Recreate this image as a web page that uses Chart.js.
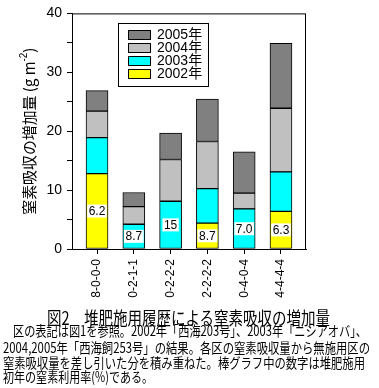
<!DOCTYPE html>
<html>
<head>
<meta charset="utf-8">
<script src="https://cdn.jsdelivr.net/npm/chart.js@4.4.0/dist/chart.umd.min.js"></script>
<style>
  html, body { margin: 0; padding: 0; background: #fff; }
  body { width: 379px; height: 388px; position: relative; overflow: hidden; }
  #wrap { position: absolute; left: 0; top: 0; width: 379px; height: 305px; }
  .line {
    position: absolute; white-space: nowrap; color: #000;
    font-family: "Noto Sans CJK JP", "Liberation Sans", sans-serif;
    transform-origin: 0 50%;
  }
</style>
</head>
<body>
<div id="wrap"><canvas id="chart" width="379" height="305"></canvas></div>

<div class="line" data-x="47" data-cy="316.5" data-w="283" data-fs="18">図2　堆肥施用履歴による窒素吸収の増加量</div>
<div class="line" data-x="13" data-cy="330" data-w="354" data-fs="14">区の表記は図1を参照。2002年「西海203号」、2003年「ニシアオバ」、</div>
<div class="line" data-x="3" data-cy="346.5" data-w="367" data-fs="14">2004,2005年「西海飼253号」の結果。各区の窒素吸収量から無施用区の</div>
<div class="line" data-x="3" data-cy="362" data-w="362" data-fs="14">窒素吸収量を差し引いた分を積み重ねた。棒グラフ中の数字は堆肥施用</div>
<div class="line" data-x="3" data-cy="376" data-w="150" data-fs="14">初年の窒素利用率(%)である。</div>

<script>
// plot categories (compost history) and stacked yearly increases, g m-2
const categories = ['8-0-0-0', '0-2-1-1', '0-2-2-2', '2-2-2-2', '0-4-0-4', '4-4-4-4'];
const years = ['2002年', '2003年', '2004年', '2005年'];
const y2002 = [12.8, 0, 0, 4.4, 0, 6.4];
const y2003 = [6.1, 4.2, 8.1, 5.85, 6.8, 6.7];
const y2004 = [4.5, 3.0, 7.1, 8.0, 2.7, 10.8];
const y2005 = [3.5, 2.4, 4.5, 7.2, 7.0, 11.0];
// nitrogen use rate in the first year (%) shown inside the bars
const rateLabels = ['6.2', '8.7', '15', '8.7', '7.0', '6.3'];
const yTicks = [0, 10, 20, 30, 40];

const colors = ['#ffff00', '#00ffff', '#c0c0c0', '#808080'];
const series = [y2002, y2003, y2004, y2005];

const datasets = series.map((vals, i) => ({
  label: years[i],
  data: vals.map((v, j) => ({ x: j, y: v })),
  backgroundColor: colors[i],
  borderColor: '#000',
  borderWidth: 1,
  borderSkipped: false,
  barThickness: 22,
}));

const jpFont = '"Noto Sans CJK JP", sans-serif';
const numFont = '"Liberation Sans", "Noto Sans CJK JP", sans-serif';

// frame, custom legend, rotated labels, rates in bars
const decor = {
  id: 'decor',
  afterDraw(chart) {
    const ctx = chart.ctx;
    const a = chart.chartArea;
    const xs = chart.scales.x;
    ctx.save();

    // plot frame
    ctx.strokeStyle = '#000';
    ctx.lineWidth = 1;
    ctx.strokeRect(a.left + 0.5, a.top + 0.5, a.right - a.left - 1, a.bottom - a.top);

    // category labels, reading bottom to top
    ctx.font = '12px ' + numFont;
    ctx.fillStyle = '#000';
    ctx.textAlign = 'right';
    ctx.textBaseline = 'middle';
    categories.forEach((c, i) => {
      ctx.save();
      ctx.translate(xs.getPixelForValue(i), a.bottom + 10);
      ctx.rotate(-Math.PI / 2);
      ctx.fillText(c, 0, 0);
      ctx.restore();
    });

    // y axis title
    ctx.save();
    ctx.translate(29, (a.top + a.bottom) / 2);
    ctx.rotate(-Math.PI / 2);
    const main = '窒素吸収の増加量 (g m';
    ctx.font = '15px ' + jpFont;
    const w1 = ctx.measureText(main).width;
    ctx.font = '10px ' + numFont;
    const w2 = ctx.measureText('-2').width;
    ctx.font = '15px ' + jpFont;
    const w3 = ctx.measureText(')').width;
    const total = w1 + w2 + w3;
    const s = 167 / total;
    ctx.scale(s, 1);
    ctx.textAlign = 'left';
    ctx.textBaseline = 'middle';
    let x0 = -total / 2;
    ctx.fillText(main, x0, 0);
    ctx.font = '10px ' + numFont;
    ctx.fillText('-2', x0 + w1, -5);
    ctx.font = '15px ' + jpFont;
    ctx.fillText(')', x0 + w1 + w2, 0);
    ctx.restore();

    // legend box
    ctx.fillStyle = '#fff';
    ctx.fillRect(118, 23, 90, 63);
    ctx.strokeStyle = '#000';
    ctx.strokeRect(118.5, 23.5, 90, 63);
    ctx.font = '14px ' + numFont;
    ctx.textAlign = 'left';
    ctx.textBaseline = 'middle';
    for (let k = 0; k < 4; k++) {
      const di = 3 - k;
      const cy = 34.5 + k * 13;
      ctx.fillStyle = colors[di];
      ctx.fillRect(128, cy - 4.5, 22, 9);
      ctx.strokeRect(128.5, cy - 4, 22, 9);
      ctx.fillStyle = '#000';
      ctx.fillText(years[di], 157, cy + 1);
    }

    // rate labels in the lowest non-zero segment
    ctx.font = '12px ' + numFont;
    ctx.textAlign = 'center';
    rateLabels.forEach((t, j) => {
      let di = series.findIndex(s => s[j] > 0);
      const el = chart.getDatasetMeta(di).data[j];
      const cy = (el.y + el.base) / 2;
      const tw = ctx.measureText(t).width;
      ctx.fillStyle = '#fff';
      ctx.fillRect(el.x - tw / 2 - 1.5, cy - 6.5, tw + 3, 13);
      ctx.fillStyle = '#000';
      ctx.fillText(t, el.x, cy + 0.5);
    });

    ctx.restore();
  }
};

new Chart(document.getElementById('chart'), {
  type: 'bar',
  data: { datasets },
  options: {
    responsive: false,
    animation: false,
    layout: { padding: { left: 0, right: 73, top: 12, bottom: 0 } },
    plugins: { legend: { display: false }, tooltip: { enabled: false } },
    scales: {
      x: {
        type: 'linear',
        stacked: true,
        offset: false,
        min: -0.68,
        max: 5.68,
        afterBuildTicks(scale) { scale.ticks = categories.map((c, i) => ({ value: i })); },
        afterFit(scale) { scale.height = 56; },
        ticks: { display: false },
        grid: { drawOnChartArea: false, offset: false, tickLength: 5, color: '#000' },
        border: { color: '#000' },
      },
      y: {
        stacked: true,
        min: 0,
        max: 40,
        afterBuildTicks(scale) {
          const t = [];
          for (let v = 0; v <= 40; v += 5) t.push({ value: v });
          scale.ticks = t;
        },
        afterFit(scale) { scale.width = 72; },
        ticks: {
          padding: 5,
          color: '#000',
          font: { family: 'Liberation Sans', size: 14 },
          callback: v => (yTicks.includes(v) ? String(v) : ''),
        },
        grid: { drawOnChartArea: false, tickLength: 5, color: '#000' },
        border: { color: '#000' },
      },
    },
  },
  plugins: [decor],
});

// caption lines squeezed to the widths measured on the figure
document.querySelectorAll('.line').forEach(el => {
  const fs = +el.dataset.fs;
  el.style.fontSize = fs + 'px';
  el.style.lineHeight = fs + 'px';
  el.style.left = el.dataset.x + 'px';
  el.style.top = (+el.dataset.cy - fs / 2) + 'px';
  const w = el.getBoundingClientRect().width;
  el.style.transform = 'scaleX(' + (+el.dataset.w / w) + ')';
});
</script>
</body>
</html>
